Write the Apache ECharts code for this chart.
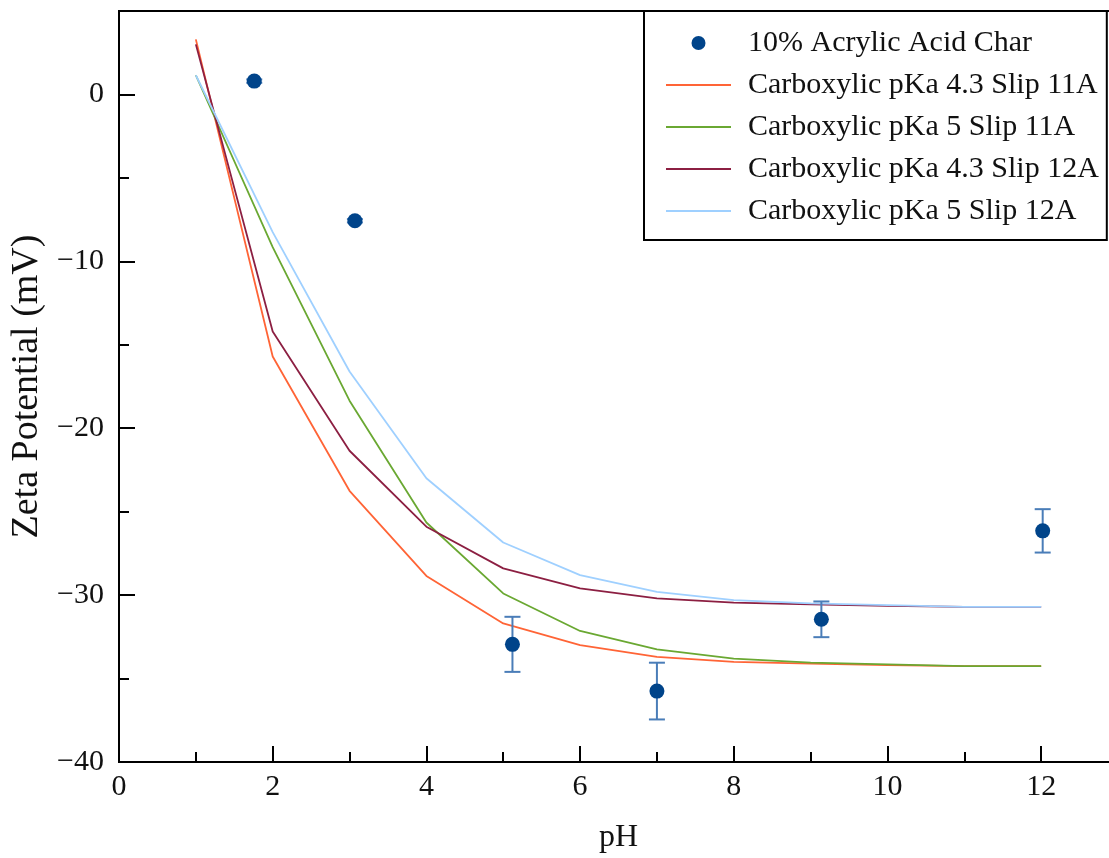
<!DOCTYPE html>
<html>
<head>
<meta charset="utf-8">
<script src="https://cdn.jsdelivr.net/npm/echarts@6/dist/echarts.min.js"></script>
<style>html,body{margin:0;padding:0;background:#fff}#c{width:1109px;height:858px}</style>
</head>
<body>
<div id="c"></div>
<script>
// ---- data ----
const seriesNames = ['10% Acrylic Acid Char', 'Carboxylic pKa 4.3 Slip 11A', 'Carboxylic pKa 5 Slip 11A', 'Carboxylic pKa 4.3 Slip 12A', 'Carboxylic pKa 5 Slip 12A'];
const measPH = [1.76, 3.07, 5.12, 7.0, 9.14, 12.02];
const measZeta = [0.8, -7.57, -32.95, -35.75, -31.45, -26.15];
const measErr = [0.1, 0.1, 1.65, 1.7, 1.07, 1.3];
const modelPH = [1, 2, 3, 4, 5, 6, 7, 8, 9, 10, 11, 12];
const pKa43Slip11 = [3.3, -15.7, -23.75, -28.85, -31.7, -33.0, -33.7, -34.0, -34.1, -34.2, -34.25, -34.25];
const pKa5Slip11 = [1.15, -9.15, -18.35, -25.65, -29.9, -32.15, -33.25, -33.8, -34.05, -34.15, -34.25, -34.25];
const pKa43Slip12 = [3.0, -14.2, -21.35, -25.9, -28.4, -29.6, -30.2, -30.45, -30.55, -30.65, -30.7, -30.7];
const pKa5Slip12 = [1.15, -8.25, -16.6, -23.0, -26.85, -28.8, -29.8, -30.3, -30.5, -30.6, -30.7, -30.7];
const xMajorTicks = [0, 2, 4, 6, 8, 10, 12];
const xMinorTicks = [1, 3, 5, 7, 9, 11];
const yMajorTicks = [-40, -30, -20, -10, 0];
const yMinorTicks = [-35, -25, -15, -5];

const FONT = '"Liberation Serif", "DejaVu Serif", serif';
const lineColors = ['#ff6436', '#6aa832', '#8c1f42', '#9fd0ff'];
const fmt = v => v < 0 ? '\u2212' + Math.abs(v) : String(v);

const chart = echarts.init(document.getElementById('c'));
const pair = (xs, ys) => xs.map((x, i) => [x, ys[i]]);
const modelSets = [pKa43Slip11, pKa5Slip11, pKa43Slip12, pKa5Slip12];

const option = {
  animation: false,
  backgroundColor: '#fff',
  grid: { left: 119, top: 11, right: -9, bottom: 96, show: true, borderColor: '#000', borderWidth: 2, outerBoundsMode: 'none', containLabel: false },
  xAxis: [
    { type: 'value', min: 0, max: 13, interval: 2, position: 'bottom',
      name: 'pH', nameLocation: 'middle', nameGap: 60,
      nameTextStyle: { fontFamily: FONT, fontSize: 32, color: '#111' },
      axisLine: { show: true, onZero: false, lineStyle: { color: '#000', width: 2 } },
      axisTick: { show: true, inside: true, length: 16, customValues: xMajorTicks, lineStyle: { color: '#000', width: 2 } },
      axisLabel: { customValues: xMajorTicks, fontFamily: FONT, fontSize: 30, color: '#111', margin: 10, formatter: fmt },
      splitLine: { show: false } },
    { type: 'value', min: 0, max: 13, interval: 2, position: 'bottom',
      axisLine: { show: false, onZero: false },
      axisTick: { show: true, inside: true, length: 10, customValues: xMinorTicks, lineStyle: { color: '#000', width: 2 } },
      axisLabel: { show: false }, splitLine: { show: false } }
  ],
  yAxis: [
    { type: 'value', min: -40, max: 5, interval: 10, position: 'left',
      name: 'Zeta Potential (mV)', nameLocation: 'middle', nameGap: 72,
      nameTextStyle: { fontFamily: FONT, fontSize: 38, color: '#111' },
      axisLine: { show: true, onZero: false, lineStyle: { color: '#000', width: 2 } },
      axisTick: { show: true, inside: true, length: 16, customValues: yMajorTicks, lineStyle: { color: '#000', width: 2 } },
      axisLabel: { customValues: yMajorTicks, fontFamily: FONT, fontSize: 30, color: '#111', margin: 15, formatter: fmt },
      splitLine: { show: false } },
    { type: 'value', min: -40, max: 5, interval: 10, position: 'left',
      axisLine: { show: false, onZero: false },
      axisTick: { show: true, inside: true, length: 10, customValues: yMinorTicks, lineStyle: { color: '#000', width: 2 } },
      axisLabel: { show: false }, splitLine: { show: false } }
  ],
  legend: {
    orient: 'vertical', left: 644, top: 11,
    data: seriesNames.map((n, i) => i === 0 ? { name: n } : { name: n, itemStyle: { opacity: 0 } }),
    backgroundColor: '#fff', borderColor: '#000', borderWidth: 2,
    padding: [17, 8, 14, 21],
    itemWidth: 65, itemHeight: 14, itemGap: 12,
    textStyle: { fontFamily: FONT, fontSize: 30, color: '#111', padding: [0, 0, 0, 12] }
  },
  series: [
    { name: 'err', type: 'custom', xAxisIndex: 0, yAxisIndex: 0, z: 3,
      data: measPH.map((x, i) => [x, measZeta[i], measErr[i]]),
      encode: { x: 0, y: 1 },
      renderItem: function (params, api) {
        const x = api.value(0), y = api.value(1), e = api.value(2);
        const hi = api.coord([x, y + e]), lo = api.coord([x, y - e]);
        const hw = 8;
        const st = { stroke: '#4a7db8', lineWidth: 2 };
        return { type: 'group', children: [
          { type: 'line', shape: { x1: hi[0], y1: hi[1], x2: lo[0], y2: lo[1] }, style: st },
          { type: 'line', shape: { x1: hi[0] - hw, y1: hi[1], x2: hi[0] + hw, y2: hi[1] }, style: st },
          { type: 'line', shape: { x1: lo[0] - hw, y1: lo[1], x2: lo[0] + hw, y2: lo[1] }, style: st }
        ] };
      } },
    { name: seriesNames[0], type: 'scatter', z: 4, symbol: 'circle', symbolSize: 15,
      itemStyle: { color: '#00448a', opacity: 1 },
      data: pair(measPH, measZeta) },
    ...modelSets.map((ys, k) => ({
      name: seriesNames[k + 1], type: 'line', z: 2, symbol: 'none', showSymbol: false,
      lineStyle: { color: lineColors[k], width: 1.8 }, itemStyle: { color: lineColors[k] },
      data: pair(modelPH, ys)
    }))
  ]
};
chart.setOption(option);
</script>
</body>
</html>
